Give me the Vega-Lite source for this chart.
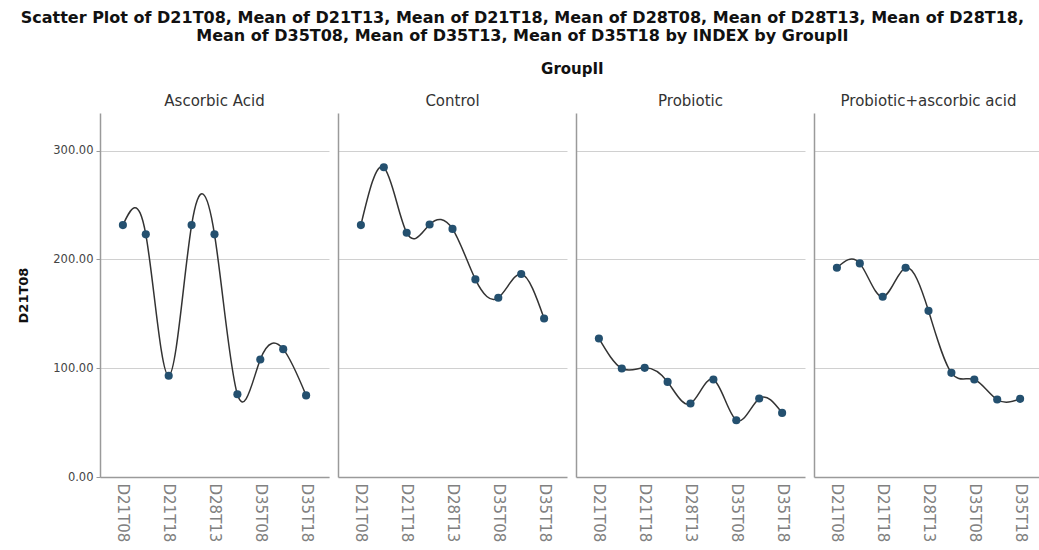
{
  "$schema": "https://vega.github.io/schema/vega-lite/v6.json",
  "padding": {"left": 17, "top": 10, "right": 0, "bottom": 0},
  "background": "white",
  "title": {
    "text": ["Scatter Plot of D21T08, Mean of D21T13, Mean of D21T18, Mean of D28T08, Mean of D28T13, Mean of D28T18,", "Mean of D35T08, Mean of D35T13, Mean of D35T18 by INDEX by GroupII"],
    "anchor": "middle",
    "frame": "bounds",
    "dx": -8,
    "font": "DejaVu Sans",
    "fontSize": 16,
    "fontWeight": "bold",
    "color": "#111111",
    "lineHeight": 18,
    "offset": 18
  },
  "datasets": {
    "means": [
      {"group": "Ascorbic Acid", "var": "D21T08", "value": 231.5},
      {"group": "Ascorbic Acid", "var": "D21T13", "value": 223.0},
      {"group": "Ascorbic Acid", "var": "D21T18", "value": 93.0},
      {"group": "Ascorbic Acid", "var": "D28T08", "value": 231.5},
      {"group": "Ascorbic Acid", "var": "D28T13", "value": 223.0},
      {"group": "Ascorbic Acid", "var": "D28T18", "value": 76.0},
      {"group": "Ascorbic Acid", "var": "D35T08", "value": 108.0},
      {"group": "Ascorbic Acid", "var": "D35T13", "value": 117.5},
      {"group": "Ascorbic Acid", "var": "D35T18", "value": 75.0},
      {"group": "Control", "var": "D21T08", "value": 231.5},
      {"group": "Control", "var": "D21T13", "value": 284.6},
      {"group": "Control", "var": "D21T18", "value": 224.5},
      {"group": "Control", "var": "D28T08", "value": 232.0},
      {"group": "Control", "var": "D28T13", "value": 228.0},
      {"group": "Control", "var": "D28T18", "value": 181.6},
      {"group": "Control", "var": "D35T08", "value": 164.7},
      {"group": "Control", "var": "D35T13", "value": 186.5},
      {"group": "Control", "var": "D35T18", "value": 145.7},
      {"group": "Probiotic", "var": "D21T08", "value": 127.3},
      {"group": "Probiotic", "var": "D21T13", "value": 99.7},
      {"group": "Probiotic", "var": "D21T18", "value": 100.3},
      {"group": "Probiotic", "var": "D28T08", "value": 87.4},
      {"group": "Probiotic", "var": "D28T13", "value": 67.5},
      {"group": "Probiotic", "var": "D28T18", "value": 89.6},
      {"group": "Probiotic", "var": "D35T08", "value": 52.2},
      {"group": "Probiotic", "var": "D35T13", "value": 72.1},
      {"group": "Probiotic", "var": "D35T18", "value": 58.9},
      {"group": "Probiotic+ascorbic acid", "var": "D21T08", "value": 192.3},
      {"group": "Probiotic+ascorbic acid", "var": "D21T13", "value": 196.3},
      {"group": "Probiotic+ascorbic acid", "var": "D21T18", "value": 165.6},
      {"group": "Probiotic+ascorbic acid", "var": "D28T08", "value": 192.3},
      {"group": "Probiotic+ascorbic acid", "var": "D28T13", "value": 152.7},
      {"group": "Probiotic+ascorbic acid", "var": "D28T18", "value": 95.7},
      {"group": "Probiotic+ascorbic acid", "var": "D35T08", "value": 89.6},
      {"group": "Probiotic+ascorbic acid", "var": "D35T13", "value": 71.2},
      {"group": "Probiotic+ascorbic acid", "var": "D35T18", "value": 71.8}
    ]
  },
  "data": {"name": "means"},
  "vconcat": [
    {
      "title": {"text": "GroupII", "anchor": "middle", "frame": "bounds", "dx": 42, "font": "DejaVu Sans", "fontSize": 15, "fontWeight": "bold", "color": "#111111", "offset": 17},
      "spacing": 9,
      "hconcat": [
        {
          "title": {"text": "Ascorbic Acid", "font": "DejaVu Sans", "fontSize": 15, "fontWeight": "normal", "color": "#333333", "offset": 4},
          "width": 229, "height": 364,
          "transform": [{"filter": "datum.group === 'Ascorbic Acid'"}],
          "encoding": {
            "x": {"field": "var", "type": "ordinal", "title": null, "scale": {"type": "point", "padding": 1}, "axis": {"values": ["D21T08", "D21T18", "D28T13", "D35T08", "D35T18"]}},
            "y": {"field": "value", "type": "quantitative", "title": "D21T08", "scale": {"domain": [0, 334.5], "nice": false}, "axis": {"values": [0, 100, 200, 300], "format": ".2f"}}
          },
          "layer": [
            {"mark": {"type": "line", "interpolate": "natural", "color": "#333333", "strokeWidth": 1.5}},
            {"mark": {"type": "circle", "size": 66, "color": "#24506f", "opacity": 1}}
          ]
        },
        {
          "title": {"text": "Control", "font": "DejaVu Sans", "fontSize": 15, "fontWeight": "normal", "color": "#333333", "offset": 4},
          "width": 229, "height": 364,
          "transform": [{"filter": "datum.group === 'Control'"}],
          "encoding": {
            "x": {"field": "var", "type": "ordinal", "title": null, "scale": {"type": "point", "padding": 1}, "axis": {"values": ["D21T08", "D21T18", "D28T13", "D35T08", "D35T18"]}},
            "y": {"field": "value", "type": "quantitative", "title": null, "scale": {"domain": [0, 334.5], "nice": false}, "axis": {"values": [100, 200, 300], "labels": false, "ticks": false}}
          },
          "layer": [
            {"mark": {"type": "line", "interpolate": "natural", "color": "#333333", "strokeWidth": 1.5}},
            {"mark": {"type": "circle", "size": 66, "color": "#24506f", "opacity": 1}}
          ]
        },
        {
          "title": {"text": "Probiotic", "font": "DejaVu Sans", "fontSize": 15, "fontWeight": "normal", "color": "#333333", "offset": 4},
          "width": 229, "height": 364,
          "transform": [{"filter": "datum.group === 'Probiotic'"}],
          "encoding": {
            "x": {"field": "var", "type": "ordinal", "title": null, "scale": {"type": "point", "padding": 1}, "axis": {"values": ["D21T08", "D21T18", "D28T13", "D35T08", "D35T18"]}},
            "y": {"field": "value", "type": "quantitative", "title": null, "scale": {"domain": [0, 334.5], "nice": false}, "axis": {"values": [100, 200, 300], "labels": false, "ticks": false}}
          },
          "layer": [
            {"mark": {"type": "line", "interpolate": "natural", "color": "#333333", "strokeWidth": 1.5}},
            {"mark": {"type": "circle", "size": 66, "color": "#24506f", "opacity": 1}}
          ]
        },
        {
          "title": {"text": "Probiotic+ascorbic acid", "font": "DejaVu Sans", "fontSize": 15, "fontWeight": "normal", "color": "#333333", "offset": 4},
          "width": 229, "height": 364,
          "transform": [{"filter": "datum.group === 'Probiotic+ascorbic acid'"}],
          "encoding": {
            "x": {"field": "var", "type": "ordinal", "title": null, "scale": {"type": "point", "padding": 1}, "axis": {"values": ["D21T08", "D21T18", "D28T13", "D35T08", "D35T18"]}},
            "y": {"field": "value", "type": "quantitative", "title": null, "scale": {"domain": [0, 334.5], "nice": false}, "axis": {"values": [100, 200, 300], "labels": false, "ticks": false}}
          },
          "layer": [
            {"mark": {"type": "line", "interpolate": "natural", "color": "#333333", "strokeWidth": 1.5}},
            {"mark": {"type": "circle", "size": 66, "color": "#24506f", "opacity": 1}}
          ]
        }
      ]
    }
  ],
  "config": {
    "view": {"stroke": null},
    "axis": {"domainColor": "#9a9a9a", "domainWidth": 1.5, "gridColor": "#d0d0d0", "labelFont": "DejaVu Sans", "titleFont": "DejaVu Sans"},
    "axisX": {"grid": false, "ticks": false, "labelAngle": 90, "labelAlign": "left", "labelBaseline": "middle", "labelFontSize": 15, "labelColor": "#808080", "labelPadding": 6},
    "axisY": {"grid": true, "tickColor": "#9a9a9a", "tickSize": 4, "labelFontSize": 11.5, "labelColor": "#444444", "labelPadding": 3, "titleFontSize": 13, "titleFontWeight": "bold", "titleColor": "#111111", "titlePadding": 22}
  }
}
